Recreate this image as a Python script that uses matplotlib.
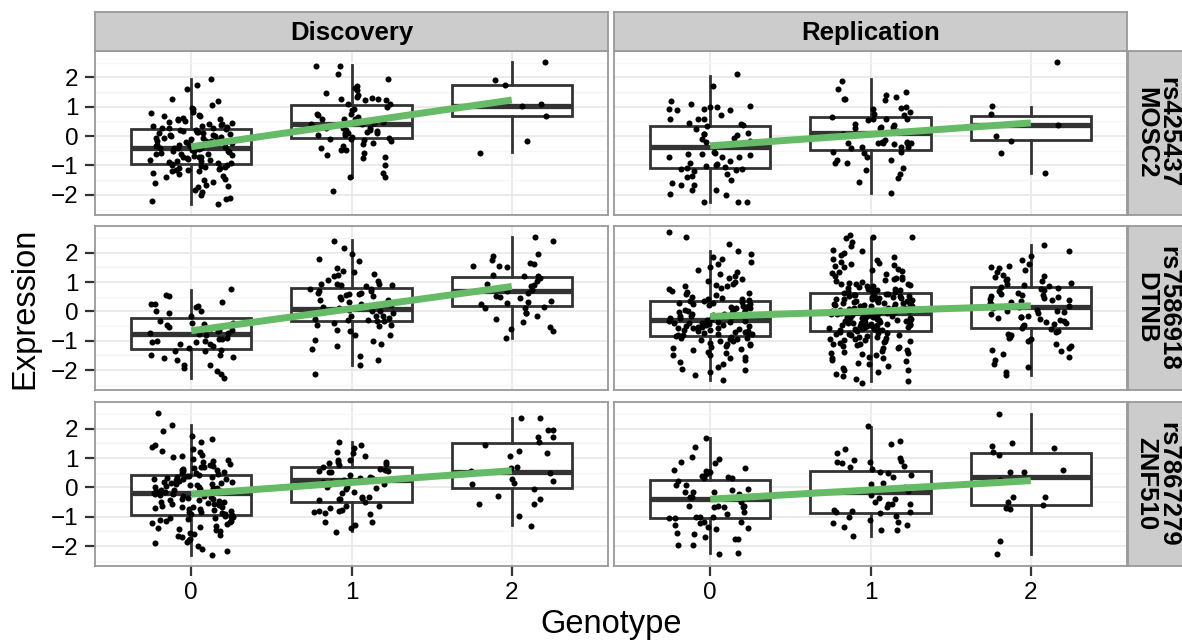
import matplotlib
matplotlib.use("Agg")
import matplotlib.pyplot as plt
from matplotlib.ticker import FixedLocator
import numpy as np

plt.rcParams['font.family'] = ['Liberation Sans', 'DejaVu Sans']

# ---------------- data ----------------
genotypes = [0, 1, 2]
genotype_labels = ["0", "1", "2"]
studies = ["Discovery", "Replication"]
snp_labels = ["rs425437\nMOSC2", "rs7586918\nDTNB", "rs7867279\nZNF510"]

# box statistics per genotype: (whislo, q1, median, q3, whishi)
box_disc_mosc2 = [(-2.30, -0.95, -0.41, 0.24, 1.94), (-1.39, -0.08, 0.42, 1.07, 2.42), (-0.53, 0.70, 1.03, 1.75, 2.52)]
box_rep_mosc2 = [(-2.24, -1.07, -0.36, 0.34, 2.05), (-1.95, -0.47, 0.09, 0.64, 1.93), (-1.24, -0.14, 0.39, 0.68, 1.00)]
box_disc_dtnb = [(-2.27, -1.27, -0.76, -0.23, 0.74), (-1.81, -0.34, 0.09, 0.79, 2.44), (-0.91, 0.19, 0.68, 1.18, 2.52)]
box_rep_dtnb = [(-2.32, -0.84, -0.28, 0.37, 2.07), (-2.38, -0.67, -0.05, 0.63, 2.49), (-2.15, -0.57, 0.16, 0.82, 2.27)]
box_disc_znf510 = [(-2.29, -0.93, -0.20, 0.43, 2.11), (-1.50, -0.50, 0.25, 0.70, 1.55), (-1.29, -0.02, 0.54, 1.53, 2.38)]
box_rep_znf510 = [(-2.24, -1.04, -0.40, 0.25, 1.70), (-1.67, -0.86, -0.14, 0.57, 2.07), (-2.27, -0.60, 0.36, 1.18, 2.49)]

# fitted regression line values at genotype 0 and genotype 2
fit_disc_mosc2 = (-0.36, 1.23)
fit_rep_mosc2 = (-0.33, 0.45)
fit_disc_dtnb = (-0.66, 0.85)
fit_rep_dtnb = (-0.17, 0.19)
fit_disc_znf510 = (-0.23, 0.57)
fit_rep_znf510 = (-0.40, 0.23)

# individual expression values (per genotype)
disc_mosc2_g0 = [1.94, 1.75, 1.62, 1.25, 1.18, 1.05, 0.95, 0.92, 0.82, 0.78, 0.72, 0.68, 0.62, 0.58, 0.55, 0.5, 0.48, 0.45, 0.42, 0.4,
                 0.38, 0.35, 0.33, 0.3, 0.28, 0.27, 0.26, 0.25, 0.7, 0.6,
                 0.22, 0.2, 0.18, 0.15, 0.12, 0.1, 0.08, 0.05, 0.02, 0.0, -0.02, -0.05, -0.08, -0.1, -0.12, -0.15, -0.18, -0.2, -0.22, -0.25,
                 -0.28, -0.3, -0.32, -0.35, -0.38, -0.4, -0.41, -0.42, -0.45, -0.48, -0.5, -0.52, -0.55, -0.58, -0.6, -0.62, -0.65, -0.68, -0.7, -0.72,
                 -0.75, -0.78, -0.8, -0.82, -0.85, -0.88, -0.9, -0.92, -0.94, -0.3, -0.5, -0.6, -0.15, 0.05, -0.7, -0.85, -0.4, -0.25, 0.15, -0.05,
                 -0.98, -1.0, -1.02, -1.05, -1.08, -1.1, -1.12, -1.15, -1.18, -1.2, -1.25, -1.3, -1.35, -1.4, -1.45, -1.5, -1.55, -1.6, -1.65, -1.7,
                 -1.75, -1.85, -1.9, -2.0, -2.1, -2.15, -2.2, -2.3, -1.05, -1.15]
disc_mosc2_g1 = [2.4, 2.4, 2.1, 1.94, 1.63, 1.7, 1.57, 1.4, 1.34, 1.28, 1.23, 1.28, 1.48, 1.31, 1.23, 1.09, 1.09, 1.0, 0.89, 0.91,
                 0.77, 0.72, 0.75, 0.57, 0.49, 0.66, 0.6, 0.6, 0.45, 0.43, 0.42, 0.32, 0.26, 0.28, 0.28, 0.2, 0.18, 0.11, 0.2, 0.03,
                 0.09, 0.03, -0.02, -0.11, -0.08, -0.11, -0.16, -0.14, -0.25, -0.27, -0.34, -0.48, -0.42, -0.48, -0.59, -0.7, -0.76, -0.65, -0.99, -1.39,
                 -1.24, -1.39, -1.86, 0.09, 0.15]
disc_mosc2_g2 = [1.75, 1.91, 2.53, 1.02, 0.69, -0.16, -0.56, 1.1]

rep_mosc2_g0 = [2.1, 1.7, 1.19, 0.89, 1.11, 1.02, 0.93, 0.91, 1.0, 1.0, 0.89, 0.72, 0.6, 0.6, 0.57, 0.45, 0.34, 0.25, 0.38, 0.03,
                0.07, 0.09, 0.07, -0.06, -0.19, -0.16, -0.11, -0.53, -0.57, -0.61, -0.61, -0.65, -0.7, -0.7, -0.7, -0.84, -0.91, -0.99, -1.1, -1.16,
                -1.02, -0.95, -1.18, -1.13, -1.13, -1.05, -1.3, -1.36, -1.39, -1.65, -1.48, -1.61, -1.67, -1.82, -1.82, -1.98, -1.99, -2.24, -2.24, -2.24,
                0.43]
rep_mosc2_g1 = [1.88, 1.59, 1.34, 1.28, 1.25, 1.4, 1.51, 1.23, 0.83, 0.97, 0.91, 0.98, 0.57, 0.43, 0.6, 0.77, 0.55, 0.64, 0.72, 0.57,
                0.26, 0.38, 0.32, 0.32, 0.18, 0.26, 0.07, -0.25, -0.25, -0.23, -0.19, -0.25, -0.14, -0.19, -0.25, -0.27, -0.36, -0.36, -0.42, -0.53,
                -0.53, -0.7, -0.82, -0.93, -1.1, -0.82, -0.93, -1.14, -1.3, -1.41, -1.56, -1.95, -0.59, -0.36]
rep_mosc2_g2 = [2.51, 1.02, 0.74, 0.38, 0.0, -0.16, -0.56, -1.24]

disc_dtnb_g0 = [0.77, 0.57, 0.51, 0.25, 0.25, 0.2, 0.32, 0.14, 0.03, 0.0, -0.06, -0.17, -0.32, -0.45, -0.43, -0.4, -0.4, -0.57, -0.62, -0.62,
                -0.54, -0.77, -0.74, -0.79, -0.68, -0.74, -0.91, -0.93, -0.93, -1.02, -1.11, -1.25, -1.36, -1.19, -1.02, -1.04, -1.04, -1.11, -1.34, -1.47,
                -1.56, -1.64, -1.3, -1.5, -1.59, -1.81, -1.84, -1.93, -2.02, -2.13, -2.27]
disc_dtnb_g1 = [2.4, 2.15, 1.95, 1.79, 1.73, 1.47, 1.34, 1.38, 1.25, 1.27, 1.19, 1.02, 0.93, 0.91, 0.91, 0.93, 0.93, 1.08, 0.77, 0.62,
                0.77, 0.85, 0.7, 0.59, 0.62, 0.57, 0.59, 0.4, 0.4, 0.32, 0.48, 0.51, 0.43, 0.28, 0.25, 0.14, 0.11, 0.06, 0.0, 0.14,
                0.0, -0.14, -0.28, -0.34, -0.17, -0.32, -0.23, -0.17, -0.28, -0.25, -0.4, -0.51, -0.45, -0.45, -0.62, -0.66, -0.82, -0.82, -0.96, -1.02,
                -1.11, -1.19, -1.27, -1.51, -1.64, -1.84, -2.13, 0.23, -0.06, 0.7]
disc_dtnb_g2 = [2.53, 2.4, 1.95, 1.9, 1.76, 1.61, 1.53, 1.64, 1.56, 1.56, 1.13, 1.19, 1.19, 1.25, 1.02, 0.91, 0.88, 0.93, 0.7, 0.74,
                0.62, 0.53, 0.48, 0.45, 0.32, 0.36, 0.28, 0.25, 0.11, 0.11, 0.14, -0.06, -0.17, -0.25, -0.36, -0.54, -0.59, -0.68, -0.91, -0.06]

rep_dtnb_g0 = [2.7, 2.52, 2.29, 2.07, 1.95, 1.85, 1.78, 1.7, 1.6, 1.5, 1.42, 1.35, 1.28, 1.2, 1.12, 1.05, 1.0, 0.95, 0.9, 0.85,
               0.8, 0.75, 0.7, 0.66, 0.62, 0.58, 0.55, 0.5, 0.47, 0.44, 0.41, 0.39, 1.15, 0.88,
               0.36, 0.34, 0.31, 0.28, 0.25, 0.22, 0.2, 0.17, 0.14, 0.11, 0.08, 0.05, 0.02, 0.0, -0.03, -0.06, -0.09, -0.12, -0.15, -0.18,
               -0.21, -0.24, -0.27, 0.3, 0.1, -0.05, -0.2, 0.15, 0.26, -0.1, 0.04, -0.16,
               -0.29, -0.31, -0.33, -0.36, -0.38, -0.41, -0.43, -0.46, -0.48, -0.5, -0.53, -0.55, -0.58, -0.6, -0.62, -0.65, -0.67, -0.7, -0.72, -0.74,
               -0.77, -0.79, -0.81, -0.83, -0.35, -0.45, -0.57, -0.63, -0.7, -0.52, -0.4, -0.76,
               -0.86, -0.89, -0.92, -0.95, -0.98, -1.02, -1.06, -1.1, -1.14, -1.18, -1.22, -1.27, -1.32, -1.37, -1.42, -1.48, -1.54, -1.6, -1.66, -1.72,
               -1.8, -1.88, -1.95, -2.05, -2.15, -2.32, -1.0, -1.25, -1.5, -0.93, -1.12, -2.0]
rep_dtnb_g1 = [2.6, 2.52, 2.52, 2.49, 2.35, 2.22, 2.1, 2.05, 1.98, 1.92, 1.86, 1.8, 1.75, 1.7, 1.65, 1.6, 1.55, 1.5, 1.46, 1.42,
               1.38, 1.34, 1.3, 1.26, 1.22, 1.18, 1.14, 1.1, 1.07, 1.04, 1.01, 0.98, 0.95, 0.92, 0.9, 0.87, 0.85, 0.82, 0.8, 0.78,
               0.76, 0.74, 0.72, 0.7, 0.68, 0.66, 0.65, 1.58, 1.12, 0.93,
               0.62, 0.6, 0.59, 0.57, 0.55, 0.54, 0.52, 0.5, 0.49, 0.47, 0.45, 0.43, 0.42, 0.4, 0.38, 0.36, 0.35, 0.33, 0.31, 0.29,
               0.28, 0.26, 0.24, 0.22, 0.21, 0.19, 0.17, 0.15, 0.14, 0.12, 0.1, 0.08, 0.07, 0.05, 0.03, 0.01, 0.0, -0.02, -0.03, -0.04,
               0.44, 0.3, 0.18, 0.06, 0.53, 0.25, 0.11, -0.01, 0.37, 0.48,
               -0.06, -0.08, -0.09, -0.11, -0.12, -0.14, -0.15, -0.17, -0.19, -0.2, -0.22, -0.24, -0.25, -0.27, -0.29, -0.3, -0.32, -0.34, -0.35, -0.37,
               -0.39, -0.4, -0.42, -0.44, -0.45, -0.47, -0.49, -0.5, -0.52, -0.54, -0.55, -0.57, -0.59, -0.6, -0.62, -0.64, -0.66, -0.1, -0.23, -0.31,
               -0.43, -0.51, -0.58, -0.16, -0.28, -0.38, -0.46, -0.63, -0.21, -0.33,
               -0.69, -0.72, -0.74, -0.77, -0.8, -0.82, -0.85, -0.88, -0.9, -0.93, -0.96, -0.99, -1.02, -1.05, -1.08, -1.12, -1.15, -1.18, -1.22, -1.26,
               -1.3, -1.34, -1.38, -1.42, -1.46, -1.5, -1.55, -1.6, -1.65, -1.7, -1.75, -1.8, -1.86, -1.92, -1.98, -2.05, -2.12, -2.2, -2.3, -2.38,
               -2.44, -0.78, -0.95, -1.1, -1.24, -1.4, -0.86, -1.0, -1.58, -2.0]
rep_dtnb_g2 = [2.27, 2.05, 1.9, 1.75, 1.62, 1.55, 1.48, 1.4, 1.33, 1.25, 1.18, 1.12, 1.07, 1.02, 0.98, 0.94, 0.9, 0.86, 0.84, 1.5, 1.2,
               0.8, 0.76, 0.72, 0.68, 0.64, 0.6, 0.56, 0.52, 0.48, 0.45, 0.42, 0.38, 0.35, 0.32, 0.28, 0.25, 0.22, 0.19, 0.17, 0.55, 0.4,
               0.14, 0.1, 0.06, 0.02, -0.02, -0.06, -0.1, -0.14, -0.18, -0.22, -0.26, -0.3, -0.34, -0.38, -0.42, -0.46, -0.5, -0.55, 0.0, -0.2, -0.35,
               -0.6, -0.65, -0.7, -0.76, -0.82, -0.88, -0.95, -1.02, -1.1, -1.18, -1.26, -1.35, -1.45, -1.55, -1.65, -1.78, -1.9, -2.05, -2.15, -0.9, -1.3]

disc_znf510_g0 = [2.52, 2.11, 1.93, 1.75, 1.65, 1.55, 1.45, 1.38, 1.3, 1.25, 1.2, 1.12, 1.05, 0.98, 0.95, 0.9, 0.85, 0.8, 0.75, 0.7,
                  0.68, 0.65, 0.62, 0.6, 0.58, 0.55, 0.52, 0.5, 0.48, 0.46, 1.08, 0.72,
                  0.42, 0.4, 0.38, 0.35, 0.33, 0.3, 0.28, 0.25, 0.22, 0.2, 0.18, 0.15, 0.12, 0.1, 0.08, 0.05, 0.03, 0.0, -0.02, -0.05,
                  -0.08, -0.1, -0.12, -0.15, -0.18, -0.19, 0.27, 0.07, -0.03, 0.14, -0.13, 0.36,
                  -0.21, -0.23, -0.25, -0.28, -0.3, -0.32, -0.35, -0.38, -0.4, -0.43, -0.45, -0.48, -0.5, -0.53, -0.55, -0.58, -0.6, -0.63, -0.65, -0.68,
                  -0.7, -0.72, -0.75, -0.78, -0.8, -0.83, -0.85, -0.88, -0.9, -0.92, -0.42, -0.66,
                  -0.95, -0.97, -1.0, -1.02, -1.05, -1.08, -1.1, -1.13, -1.15, -1.2, -1.25, -1.3, -1.35, -1.4, -1.45, -1.5, -1.55, -1.6, -1.65, -1.7,
                  -1.75, -1.8, -1.85, -1.9, -2.0, -2.1, -2.15, -2.29, -1.03, -1.18, -1.62, -1.38]
disc_znf510_g1 = [1.56, 1.34, 1.45, 1.22, 1.16, 1.08, 0.93, 0.85, 0.88, 0.93, 0.82, 0.77, 0.79, 0.57, 0.54, 0.57, 0.62, 0.59, 0.43, 0.32,
                  0.36, 0.51, 0.25, 0.17, 0.25, 0.11, 0.17, 0.0, -0.02, 0.2, 0.11, 0.32, -0.06, -0.15, -0.2, -0.32, -0.4, -0.34, -0.43, -0.36,
                  -0.4, -0.51, -0.62, -0.7, -0.79, -0.88, -0.91, -0.85, -0.79, -0.77, -1.28, -1.38, -1.19, -1.19, -1.51, -0.62, 0.7, 0.0]
disc_znf510_g2 = [2.38, 2.38, 1.95, 1.95, 1.72, 1.72, 1.56, 1.45, 1.25, 1.16, 1.08, 0.7, 0.65, 0.48, 0.23, 0.28, 0.14, 0.11, -0.06, -0.28,
                  -0.4, -0.57, -0.57, -0.96, -1.3, 0.57]

rep_znf510_g0 = [1.7, 1.38, 1.02, 0.82, 0.96, 0.85, 0.59, 0.57, 0.65, 0.36, 0.4, 0.53, 0.51, 0.45, 0.32, 0.23, 0.32, 0.08, 0.08, -0.07,
                 -0.08, -0.17, -0.32, -0.17, -0.17, -0.23, -0.32, -0.32, -0.62, -0.68, -0.62, -0.49, -0.68, -0.63, -0.68, -1.0, -1.02, -0.91, -0.85, -1.05,
                 -1.05, -1.0, -1.17, -1.19, -1.28, -1.38, -1.42, -1.56, -1.59, -1.36, -1.7, -1.76, -1.76, -1.95, -1.95, -2.24, -2.27, -1.22]
rep_znf510_g1 = [2.1, 1.59, 1.47, 1.3, 1.16, 0.99, 0.93, 0.9, 0.85, 0.85, 0.82, 0.74, 0.62, 0.48, 0.43, 0.53, 0.7, 0.36, 0.14, 0.11,
                 0.0, -0.11, -0.02, -0.37, -0.25, -0.4, -0.48, -0.57, -0.57, -0.66, -0.57, -0.79, -0.88, -0.85, -0.77, -0.85, -0.96, -1.0, -1.19, -1.27,
                 -1.11, -1.21, -1.36, -1.45, -1.45, -1.67]
rep_znf510_g2 = [2.49, 1.5, 1.42, 1.34, 1.21, 1.1, 0.51, 0.54, 0.6, 0.25, -0.34, -0.32, -0.48, -0.71, -0.61, -0.75, -1.81, -2.27]

boxes = [[box_disc_mosc2, box_rep_mosc2], [box_disc_dtnb, box_rep_dtnb], [box_disc_znf510, box_rep_znf510]]
fits = [[fit_disc_mosc2, fit_rep_mosc2], [fit_disc_dtnb, fit_rep_dtnb], [fit_disc_znf510, fit_rep_znf510]]
points = [[[disc_mosc2_g0, disc_mosc2_g1, disc_mosc2_g2], [rep_mosc2_g0, rep_mosc2_g1, rep_mosc2_g2]],
          [[disc_dtnb_g0, disc_dtnb_g1, disc_dtnb_g2], [rep_dtnb_g0, rep_dtnb_g1, rep_dtnb_g2]],
          [[disc_znf510_g0, disc_znf510_g1, disc_znf510_g2], [rep_znf510_g0, rep_znf510_g1, rep_znf510_g2]]]

# ---------------- style ----------------
W, H = 1182, 642
fig = plt.figure(figsize=(W / 100, H / 100), dpi=100)
fig.patch.set_facecolor('white')

col_left = [95, 614]
col_width = 513
row_top = [50.7, 226, 402]
row_height = 163.8
ylim = (-2.67, 2.91)
xlim = (-0.6, 2.6)
border_col = '#999999'
box_col = '#333333'
green = '#66BB66'
tick_fs = 17.5
strip_fs = 18.5
title_fs = 23.5


def jitter(n, seed):
    i = np.arange(n)
    h = np.sin((i + 1) * 12.9898 + seed * 78.233) * 43758.5453
    return (h - np.floor(h) - 0.5) * 0.52


def fig_rect(x, y, w, h):
    return [x / W, 1 - (y + h) / H, w / W, h / H]


for r in range(3):
    for c in range(2):
        ax = fig.add_axes(fig_rect(col_left[c], row_top[r], col_width, row_height))
        ax.set_facecolor('white')
        ax.set_xlim(*xlim)
        ax.set_ylim(*ylim)
        ax.yaxis.set_major_locator(FixedLocator([-2, -1, 0, 1, 2]))
        ax.yaxis.set_minor_locator(FixedLocator([-2.5, -1.5, -0.5, 0.5, 1.5, 2.5]))
        ax.xaxis.set_major_locator(FixedLocator(genotypes))
        ax.grid(which='major', color='#E6E6E6', lw=1.1, zorder=0)
        ax.grid(which='minor', axis='y', color='#F5F5F5', lw=0.9, zorder=0)
        ax.set_axisbelow(True)
        for s in ax.spines.values():
            s.set_color(border_col)
            s.set_linewidth(1.3)
            s.set_zorder(6)

        stats = []
        for (lo, q1, med, q3, hi) in boxes[r][c]:
            stats.append(dict(whislo=lo, q1=q1, med=med, q3=q3, whishi=hi, fliers=[]))
        ax.bxp(stats, positions=genotypes, widths=0.75, patch_artist=True, showcaps=False,
               showfliers=False,
               boxprops=dict(facecolor='white', edgecolor=box_col, linewidth=2.0),
               whiskerprops=dict(color=box_col, linewidth=2.0),
               medianprops=dict(color=box_col, linewidth=3.8, solid_capstyle='butt'),
               zorder=2, manage_ticks=False)

        for g in genotypes:
            vals = np.array(points[r][c][g])
            xs = g + jitter(len(vals), r * 7 + c * 3 + g + 1)
            ax.scatter(xs, vals, s=19, color='black', lw=0, zorder=3)

        f0, f2 = fits[r][c]
        ax.plot([genotypes[0], genotypes[-1]], [f0, f2], color=green, lw=5, solid_capstyle='butt', zorder=4)

        ax.tick_params(which='major', length=7, width=1.6, color=box_col, labelsize=tick_fs,
                       labelcolor='black', pad=5)
        ax.tick_params(which='minor', length=0)
        if c == 0:
            ax.set_yticklabels(['\u22122', '\u22121', '0', '1', '2'])
        else:
            ax.tick_params(axis='y', length=0, labelleft=False)
        if r == 2:
            ax.set_xticklabels(genotype_labels)
        else:
            ax.tick_params(axis='x', length=0, labelbottom=False)

        # right-hand strips
        if c == 1:
            sax = fig.add_axes(fig_rect(1128, row_top[r], 62, row_height))
            sax.set_facecolor('#CCCCCC')
            sax.set_xticks([])
            sax.set_yticks([])
            for s in sax.spines.values():
                s.set_color(border_col)
                s.set_linewidth(1.3)
            sax.text(0.47, 0.5, snp_labels[r], rotation=270, ha='center', va='center',
                     fontsize=strip_fs, fontweight='bold', transform=sax.transAxes, linespacing=0.9)

# top strips
for c in range(2):
    sax = fig.add_axes(fig_rect(col_left[c], 12, col_width, 38.7))
    sax.set_facecolor('#CCCCCC')
    sax.set_xticks([])
    sax.set_yticks([])
    for s in sax.spines.values():
        s.set_color(border_col)
        s.set_linewidth(1.3)
    sax.text(0.5, 0.45, studies[c], ha='center', va='center', fontsize=strip_fs, fontweight='bold',
             transform=sax.transAxes)

fig.text(25 / W, 1 - 308 / H, 'Expression', rotation=90, ha='center', va='center', fontsize=title_fs)
fig.text(611 / W, 1 - 625 / H, 'Genotype', ha='center', va='center', fontsize=title_fs)

fig.savefig('out.png', dpi=100, facecolor='white')
